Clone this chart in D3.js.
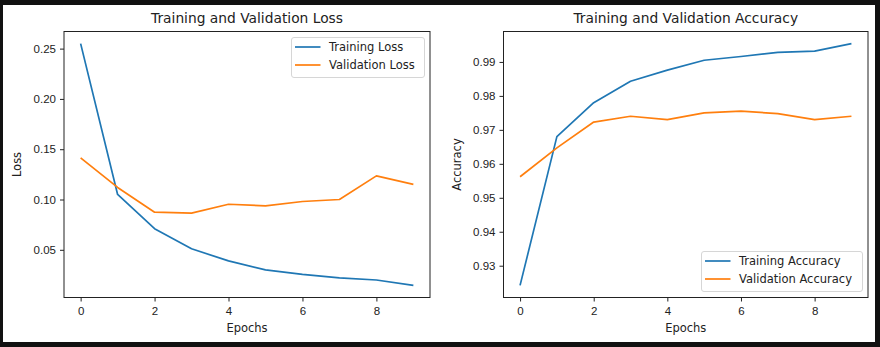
<!DOCTYPE html>
<html>
<head>
<meta charset="utf-8">
<script src="https://cdn.jsdelivr.net/npm/d3@7"></script>
<style>
	html, body { margin: 0; padding: 0; background: #111; }
	svg { display: block; font-family: 'DejaVu Sans', sans-serif; }
</style>
</head>
<body>
<div id="chart"></div>
<script>
// Values
const epochs = [0, 1, 2, 3, 4, 5, 6, 7, 8, 9];
const train_loss = [0.255, 0.105, 0.071, 0.051, 0.039, 0.030, 0.0255, 0.022, 0.020, 0.0146];
const val_loss = [0.1414, 0.112, 0.0874, 0.0864, 0.0953, 0.0937, 0.098, 0.100, 0.1235, 0.115];
const train_acc = [0.9242, 0.968, 0.978, 0.9843, 0.9876, 0.9905, 0.9916, 0.9928, 0.9932, 0.9954];
const val_acc = [0.9562, 0.9647, 0.9723, 0.974, 0.973, 0.975, 0.9755, 0.9748, 0.973, 0.974];

const x_ticks = [0, 2, 4, 6, 8];
const loss_ticks = [0.05, 0.10, 0.15, 0.20, 0.25];
const acc_ticks = [0.93, 0.94, 0.95, 0.96, 0.97, 0.98, 0.99];

const width = 880;
const height = 347;
const blue = '#1f77b4';
const orange = '#ff7f0e';

const svg = d3.select('#chart')
	.append('svg')
	.attr('width', width)
	.attr('height', height);

// dark frame with white figure inside
svg.append('rect').attr('width', width).attr('height', height).attr('fill', '#111');
svg.append('rect').attr('x', 3).attr('y', 5).attr('width', 872).attr('height', 337).attr('fill', '#fff');

function drawPanel(opts) {
	const { left, right, top, bottom } = opts;

	// matplotlib-like 5% margins
	const x = d3.scaleLinear().domain([-0.45, 9.45]).range([left, right]);
	const all = opts.series.flatMap((s) => s.values);
	const lo = d3.min(all), hi = d3.max(all), pad = (hi - lo) * 0.05;
	const y = d3.scaleLinear().domain([lo - pad, hi + pad]).range([bottom, top]);

	const g = svg.append('g');

	// lines
	const line = d3.line().x((d, i) => x(epochs[i])).y((d) => y(d));
	opts.series.forEach((s) => {
		g.append('path')
			.datum(s.values)
			.attr('fill', 'none')
			.attr('stroke', s.color)
			.attr('stroke-width', 1.7)
			.attr('stroke-linejoin', 'round')
			.attr('d', line);
	});

	// axes
	const xAxis = d3.axisBottom(x).tickValues(x_ticks).tickFormat(d3.format('d')).tickSizeOuter(0).tickSize(4).tickPadding(5);
	const yAxis = d3.axisLeft(y).tickValues(opts.yticks).tickFormat(d3.format(opts.yfmt)).tickSizeOuter(0).tickSize(4).tickPadding(4);

	const gx = g.append('g').attr('transform', 'translate(0,' + bottom + ')').call(xAxis);
	const gy = g.append('g').attr('transform', 'translate(' + left + ',0)').call(yAxis);
	[gx, gy].forEach((a) => {
		a.select('.domain').remove();
		a.selectAll('text').style('font-size', '11.5px').attr('fill', '#222');
		a.selectAll('line').attr('stroke', '#222');
	});

	// spines
	g.append('rect')
		.attr('x', left).attr('y', top)
		.attr('width', right - left).attr('height', bottom - top)
		.attr('fill', 'none').attr('stroke', '#222').attr('stroke-width', 1);

	// title and labels
	g.append('text')
		.attr('x', (left + right) / 2).attr('y', 19)
		.style('dominant-baseline', 'middle').style('text-anchor', 'middle')
		.style('font-size', '13.8px').attr('fill', '#222')
		.text(opts.title);

	g.append('text')
		.attr('x', (left + right) / 2).attr('y', 328)
		.style('dominant-baseline', 'middle').style('text-anchor', 'middle')
		.style('font-size', '11.5px').attr('fill', '#222')
		.text('Epochs');

	g.append('text')
		.attr('transform', 'translate(' + opts.ylabelX + ',' + (top + bottom) / 2 + ') rotate(-90)')
		.style('dominant-baseline', 'middle').style('text-anchor', 'middle')
		.style('font-size', '11.5px').attr('fill', '#222')
		.text(opts.ylabel);

	// legend
	const lg = opts.legend;
	const leg = g.append('g').attr('transform', 'translate(' + [lg.x, lg.y] + ')');
	leg.append('rect')
		.attr('x', 0.5).attr('y', 0.5)
		.attr('width', lg.w).attr('height', lg.h)
		.attr('rx', 2.5)
		.attr('fill', 'rgba(255,255,255,0.8)')
		.attr('stroke', '#d6d6d6');
	leg.selectAll('g.item')
		.data(opts.series)
		.enter()
		.append('g')
		.attr('class', 'item')
		.attr('transform', (d, i) => 'translate(0,' + (10 + i * 18) + ')')
		.each(function (d) {
			const it = d3.select(this);
			it.append('line')
				.attr('x1', 4).attr('x2', 29.5)
				.attr('y1', 0).attr('y2', 0)
				.attr('stroke', d.color).attr('stroke-width', 1.7);
			it.append('text')
				.attr('x', 38).attr('y', 0)
				.style('dominant-baseline', 'middle')
				.style('font-size', '11.5px').attr('fill', '#222')
				.text(d.name);
		});
}

drawPanel({
	left: 64, right: 430, top: 31.5, bottom: 297.5,
	title: 'Training and Validation Loss',
	ylabel: 'Loss', ylabelX: 17,
	yticks: loss_ticks, yfmt: '.2f',
	series: [
		{ name: 'Training Loss', values: train_loss, color: blue },
		{ name: 'Validation Loss', values: val_loss, color: orange }
	],
	legend: { x: 291, y: 37, w: 133, h: 40 }
});

drawPanel({
	left: 503.5, right: 868, top: 31.5, bottom: 297.5,
	title: 'Training and Validation Accuracy',
	ylabel: 'Accuracy', ylabelX: 457,
	yticks: acc_ticks, yfmt: '.2f',
	series: [
		{ name: 'Training Accuracy', values: train_acc, color: blue },
		{ name: 'Validation Accuracy', values: val_acc, color: orange }
	],
	legend: { x: 701, y: 251, w: 161, h: 40 }
});
</script>
</body>
</html>
